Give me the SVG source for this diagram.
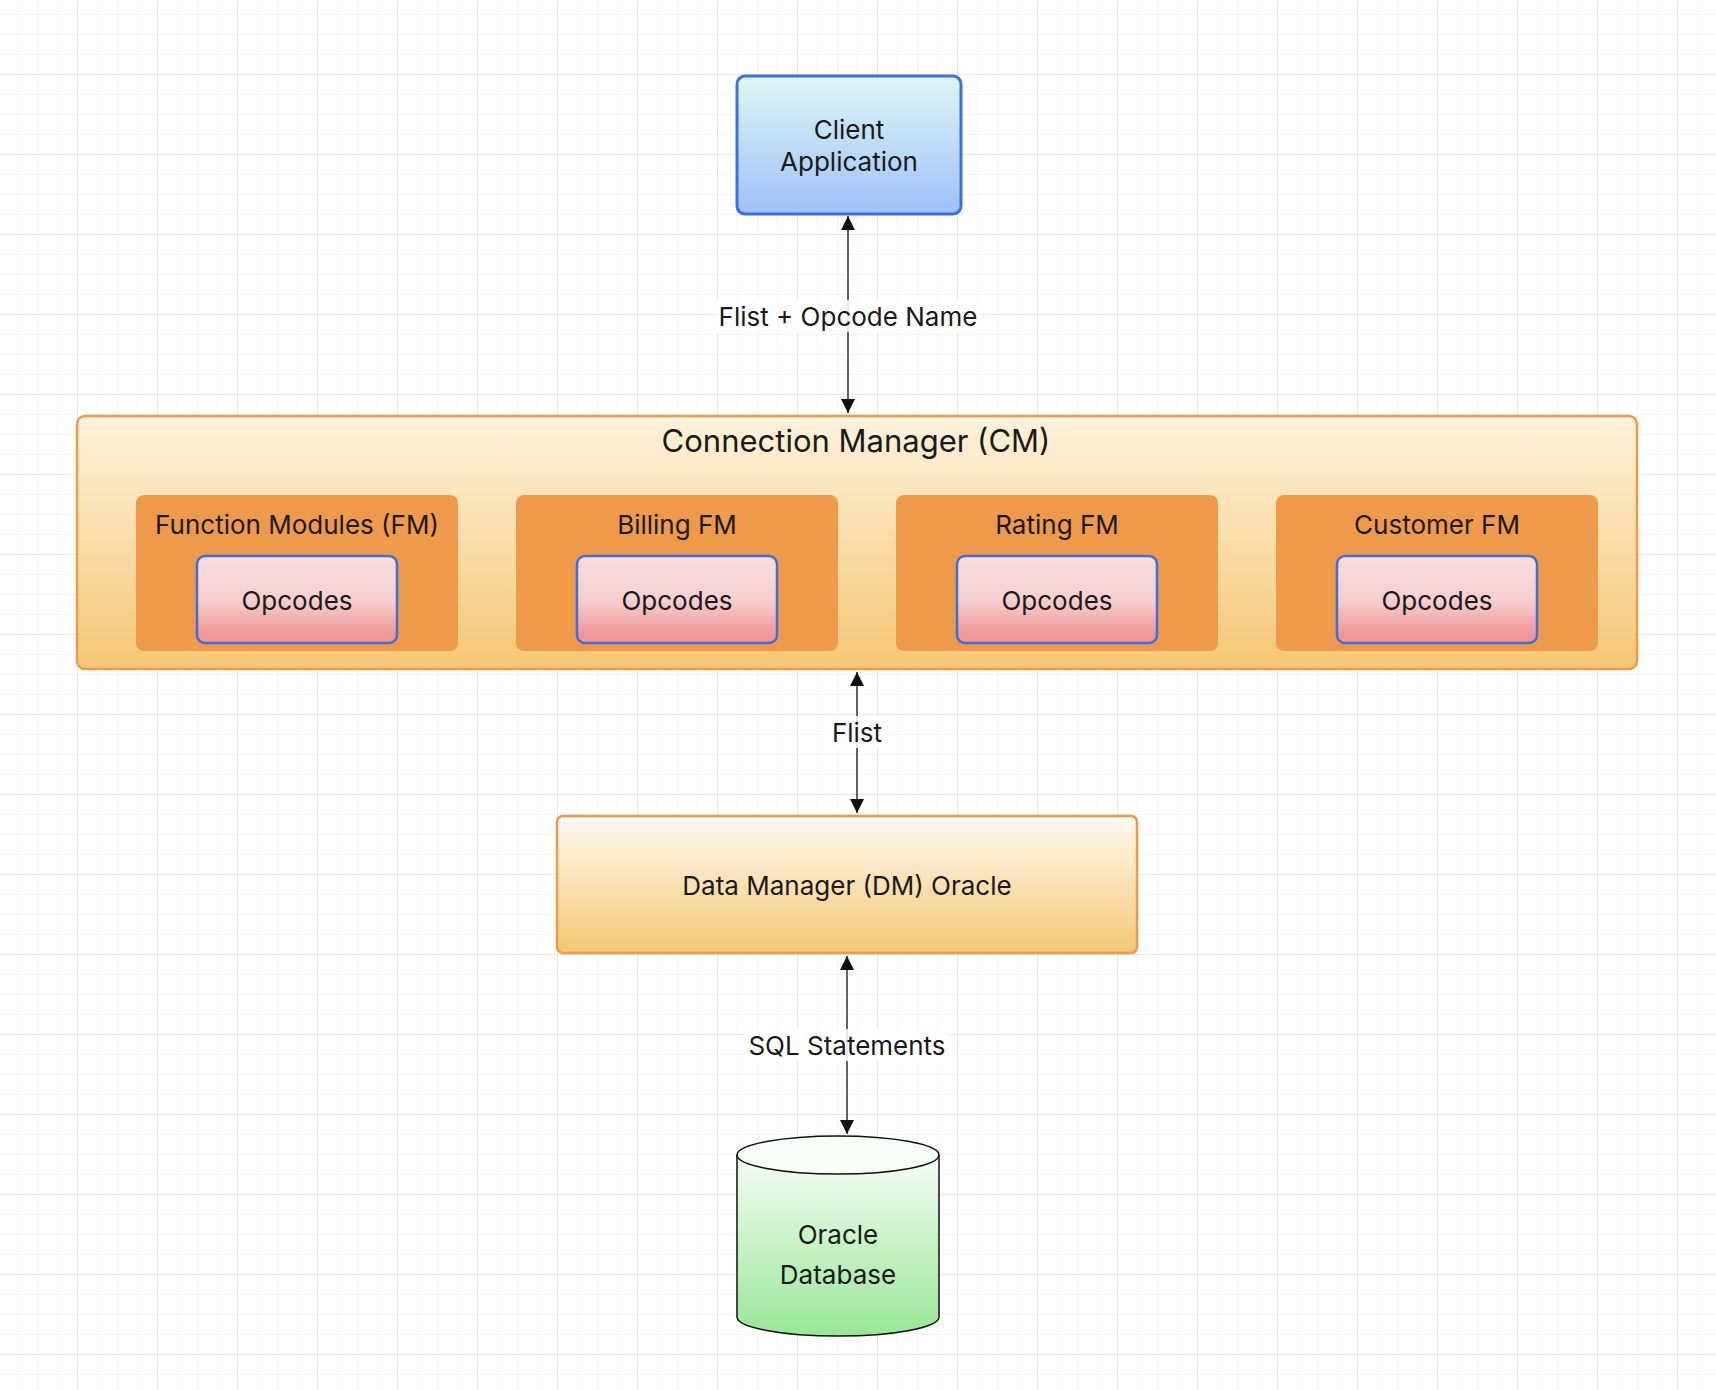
<svg xmlns="http://www.w3.org/2000/svg" width="1716" height="1390" viewBox="0 0 1716 1390">
<defs>
<pattern id="minor" width="20" height="20" patternUnits="userSpaceOnUse" x="-2" y="-5"><path d="M20 0V20M0 20H20" fill="none" stroke="#e8e8e8" stroke-width="1"/></pattern>
<pattern id="major" width="80" height="80" patternUnits="userSpaceOnUse" x="-2" y="-5"><path d="M80 0V80M0 80H80" fill="none" stroke="#d8d8d8" stroke-width="1"/></pattern>
<linearGradient id="gBlue" x1="0" y1="0" x2="0" y2="1"><stop offset="0" stop-color="#ddf7f3"/><stop offset="1" stop-color="#9ec0fa"/></linearGradient>
<linearGradient id="gOr" x1="0" y1="0" x2="0" y2="1"><stop offset="0" stop-color="#fdf2dc"/><stop offset="1" stop-color="#f5c775"/></linearGradient>
<linearGradient id="gDM" x1="0" y1="0" x2="0" y2="1"><stop offset="0" stop-color="#fffaf2"/><stop offset="1" stop-color="#f5c775"/></linearGradient>
<linearGradient id="gPink" x1="0" y1="0" x2="0" y2="1"><stop offset="0" stop-color="#f9dcdc"/><stop offset="0.5" stop-color="#f6d0d0"/><stop offset="0.9" stop-color="#f09696"/></linearGradient>
<linearGradient id="gGreen" x1="0" y1="0" x2="0" y2="1"><stop offset="0" stop-color="#f5fdf5"/><stop offset="1" stop-color="#98e696"/></linearGradient>
<marker id="ah" viewBox="0 0 10 10" refX="10" refY="5" markerWidth="14" markerHeight="14" orient="auto-start-reverse" markerUnits="userSpaceOnUse"><path d="M0 0L10 5L0 10z" fill="#111"/></marker>
<style>
text{font-family:Inter,"Noto Sans",sans-serif;fill:#1a1a1a;text-anchor:middle;dominant-baseline:central}
.fm{fill:#ee9a4a}
.op{fill:url(#gPink);stroke:#3a70e0;stroke-width:2.5}
.t24{font-size:26px}
.conn{stroke:#111;stroke-width:1.3;fill:none;marker-start:url(#ah);marker-end:url(#ah)}
</style>
</defs>
<rect width="1716" height="1390" fill="#fff"/>
<rect width="1716" height="1390" fill="url(#minor)"/>
<rect width="1716" height="1390" fill="url(#major)"/>

<g id="connectors">
<line class="conn" x1="848" y1="216" x2="848" y2="413"/>
<rect x="715" y="300" width="266" height="32" fill="#fff" fill-opacity="0.85"/>
<text class="t24" x="848" y="316">Flist + Opcode Name</text>
<line class="conn" x1="857" y1="672" x2="857" y2="813"/>
<rect x="828" y="716" width="58" height="32" fill="#fff" fill-opacity="0.85"/>
<text class="t24" x="857" y="732">Flist</text>
<line class="conn" x1="847" y1="956" x2="847" y2="1134"/>
<rect x="745" y="1029" width="204" height="32" fill="#fff" fill-opacity="0.85"/>
<text class="t24" x="847" y="1045">SQL Statements</text>
</g>

<g id="client">
<rect x="737" y="76" width="224" height="138" rx="8" fill="url(#gBlue)" stroke="#3a70e0" stroke-width="3"/>
<text class="t24" x="849" y="129">Client</text>
<text class="t24" x="849" y="161">Application</text>
</g>

<g id="cm">
<rect x="77" y="416" width="1560" height="253" rx="8" fill="url(#gOr)" stroke="#ee9a4a" stroke-width="2.5"/>
<text x="856" y="440" font-size="31">Connection Manager (CM)</text>
</g>

<g id="fm1">
<rect class="fm" x="136" y="495" width="322" height="156" rx="8"/>
<text class="t24" x="297" y="524">Function Modules (FM)</text>
<rect class="op" x="197" y="556" width="200" height="87" rx="8"/>
<text class="t24" x="297" y="600">Opcodes</text>
</g>
<g id="fm2">
<rect class="fm" x="516" y="495" width="322" height="156" rx="8"/>
<text class="t24" x="677" y="524">Billing FM</text>
<rect class="op" x="577" y="556" width="200" height="87" rx="8"/>
<text class="t24" x="677" y="600">Opcodes</text>
</g>
<g id="fm3">
<rect class="fm" x="896" y="495" width="322" height="156" rx="8"/>
<text class="t24" x="1057" y="524">Rating FM</text>
<rect class="op" x="957" y="556" width="200" height="87" rx="8"/>
<text class="t24" x="1057" y="600">Opcodes</text>
</g>
<g id="fm4">
<rect class="fm" x="1276" y="495" width="322" height="156" rx="8"/>
<text class="t24" x="1437" y="524">Customer FM</text>
<rect class="op" x="1337" y="556" width="200" height="87" rx="8"/>
<text class="t24" x="1437" y="600">Opcodes</text>
</g>

<g id="dm">
<rect x="557" y="816" width="580" height="137" rx="6" fill="url(#gDM)" stroke="#ee9a4a" stroke-width="2.5"/>
<text class="t24" x="847" y="885">Data Manager (DM) Oracle</text>
</g>

<g id="db">
<path d="M737 1155V1317A101 19 0 0 0 939 1317V1155" fill="url(#gGreen)" stroke="#111" stroke-width="1.5"/>
<ellipse cx="838" cy="1155" rx="101" ry="19" fill="#f7fdf7" stroke="#111" stroke-width="1.5"/>
<text class="t24" x="838" y="1234">Oracle</text>
<text class="t24" x="838" y="1274">Database</text>
</g>
</svg>
